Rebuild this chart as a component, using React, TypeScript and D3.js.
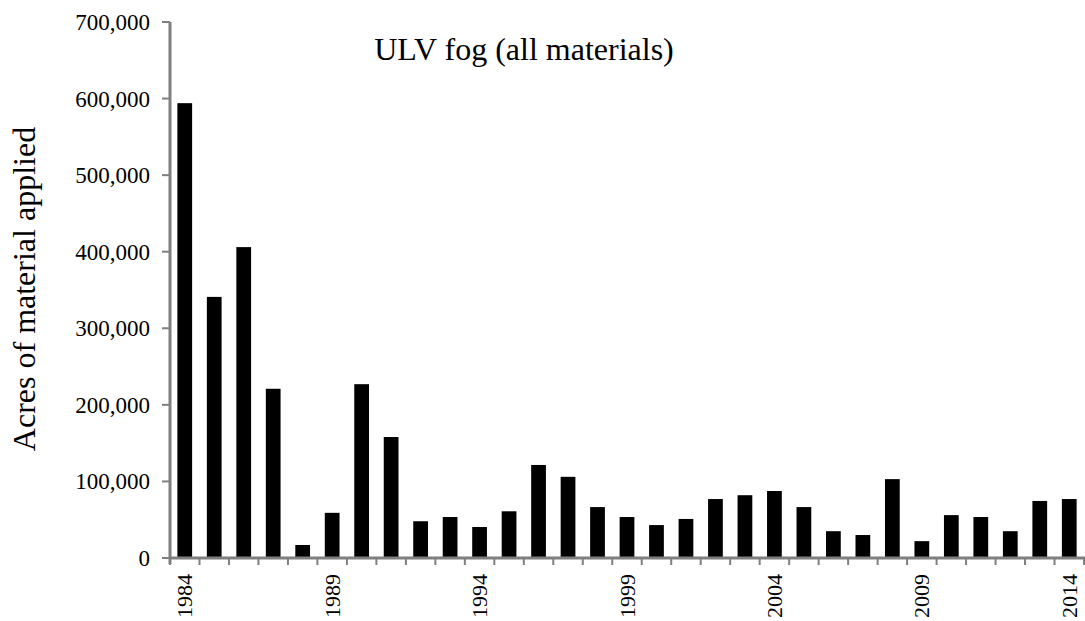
import * as d3 from "d3"

const years = d3.range(1984, 2015).map(String)
const acres = [
  594000, 341000, 406000, 221000, 17000, 59000, 227000, 158000, 48000, 53500,
  40500, 61000, 121500, 106000, 66500, 53500, 43000, 51000, 77000, 82000,
  87500, 66500, 35000, 30000, 103000, 22000, 56000, 53500, 35000, 74500, 77000,
]
const yTicks = [0, 100000, 200000, 300000, 400000, 500000, 600000, 700000]
const labelYears = ["1984", "1989", "1994", "1999", "2004", "2009", "2014"]

const W = 1085
const H = 621
const margin = { left: 170, right: 1, top: 22, bottom: 63 }
const serif = "'Times New Roman', 'Liberation Serif', 'DejaVu Serif', serif"

export default function App() {
  const x = d3
    .scaleBand<string>()
    .domain(years)
    .range([margin.left, W - margin.right])
    .paddingInner(0.5)
    .paddingOuter(0.25)
  const y = d3.scaleLinear().domain([0, 700000]).range([H - margin.bottom, margin.top])
  const fmt = d3.format(",")
  const axisColor = "#7f7f7f"
  const step = x.step()
  const x0 = margin.left
  const y0 = y(0)

  return (
    <svg width={W} height={H} fontFamily={serif} style={{ position: "absolute", left: 0, top: 0 }}>
      {/* bars */}
      {years.map((yr, i) => (
        <rect key={yr} x={x(yr)} y={y(acres[i])} width={x.bandwidth()} height={y0 - y(acres[i])} fill="#000" />
      ))}

      {/* y axis */}
      <line x1={x0} x2={x0} y1={y(700000)} y2={y0 + 6} stroke={axisColor} strokeWidth={3} />
      {yTicks.map((t) => (
        <g key={t}>
          <line x1={x0 - 8} x2={x0} y1={y(t)} y2={y(t)} stroke={axisColor} strokeWidth={2} />
          <text x={x0 - 20} y={y(t)} dy="0.35em" textAnchor="end" fontSize={23} fontFamily={serif}>
            {fmt(t)}
          </text>
        </g>
      ))}

      {/* x axis */}
      <line x1={x0} x2={W} y1={y0} y2={y0} stroke={axisColor} strokeWidth={3} />
      {d3.range(years.length + 1).map((i) => (
        <line key={i} x1={x0 + i * step} x2={x0 + i * step} y1={y0} y2={y0 + 7} stroke={axisColor} strokeWidth={2} />
      ))}
      {labelYears.map((yr) => {
        const cx = (x(yr) ?? 0) + x.bandwidth() / 2
        return (
          <text
            key={yr}
            transform={`translate(${cx + 7.5},${y0 + 16}) rotate(-90)`}
            textAnchor="end"
            fontSize={22}
            fontFamily={serif}
          >
            {yr}
          </text>
        )
      })}

      {/* title */}
      <text x={524} y={60} textAnchor="middle" fontSize={32} fontFamily={serif}>
        ULV fog (all materials)
      </text>

      {/* y label */}
      <text transform={`translate(35,289) rotate(-90)`} textAnchor="middle" fontSize={32} fontFamily={serif}>
        Acres of material applied
      </text>
    </svg>
  )
}
